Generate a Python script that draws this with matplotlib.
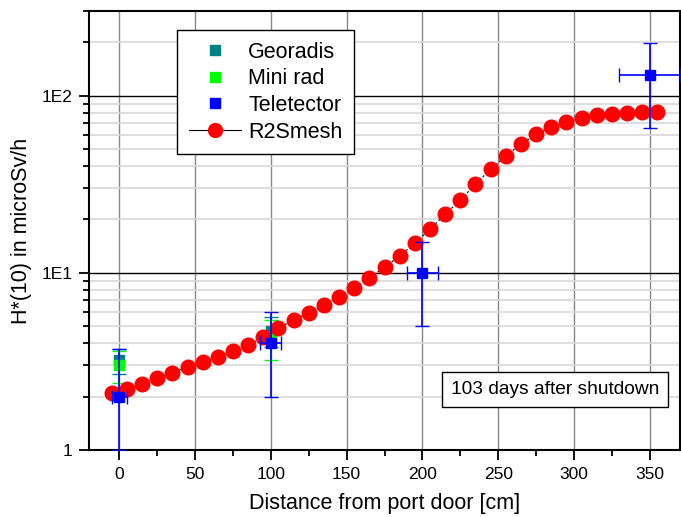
import matplotlib.pyplot as plt
from matplotlib.lines import Line2D
from matplotlib.ticker import LogLocator, NullFormatter, FixedLocator

plt.rcParams['font.family'] = ['Liberation Sans', 'DejaVu Sans']

# R2Smesh calculation
mesh_x = list(range(-5, 356, 10))
mesh_y = [2.10, 2.21, 2.36, 2.55, 2.73, 2.94, 3.14, 3.33, 3.61, 3.92, 4.33, 4.85,
          5.43, 5.90, 6.57, 7.29, 8.20, 9.31, 10.8, 12.4, 14.7, 17.6,
          21.4, 25.7, 31.6, 38.4, 45.5, 53.2, 60.4, 66.1, 71.3, 75.0, 77.8,
          79.1, 80.1, 80.8, 81.2]

# measurements
geo_x = [0, 100]
geo_y = [3.2, 4.7]
geo_err = [0.5, 0.9]

mini_x = [0, 100]
mini_y = [3.0, 4.3]
mini_err = [0.6, 1.1]

tele_x = [0, 100, 200, 350]
tele_y = [2.0, 4.0, 10.0, 130.0]
tele_err_lo = [1.0, 2.0, 5.0, 64.0]
tele_err_hi = [1.7, 2.0, 5.0, 68.0]
tele_xerr = [5, 7, 10, 20]

fig = plt.figure(figsize=(6.81, 5.17), dpi=100)
ax = fig.add_axes([89 / 681, 1 - 450 / 517, 591 / 681, 439 / 517])

ax.errorbar(geo_x, geo_y, yerr=geo_err, fmt='s', color='#008080', ms=7,
            elinewidth=1.2, capsize=5, zorder=3)
ax.errorbar(mini_x, mini_y, yerr=mini_err, fmt='s', color='#00ff00', ms=7,
            elinewidth=1.2, capsize=5, zorder=3)
ax.plot(mesh_x, mesh_y, color='black', ls=(0, (2, 2)), lw=0.8, marker='o',
        mfc='red', mec='red', ms=10.5, zorder=4)
ax.errorbar(tele_x, tele_y, yerr=[tele_err_lo, tele_err_hi], xerr=tele_xerr,
            fmt='s', color='#0000ff', ms=7, elinewidth=1.2, capsize=5, zorder=5)

ax.set_yscale('log')
ax.set_xlim(-20, 370)
ax.set_ylim(1, 300)
ax.xaxis.set_major_locator(FixedLocator([0, 50, 100, 150, 200, 250, 300, 350]))
ax.xaxis.set_minor_locator(FixedLocator([25, 75, 125, 175, 225, 275, 325]))
ax.yaxis.set_major_locator(FixedLocator([1, 10, 100]))
ax.yaxis.set_minor_locator(LogLocator(base=10, subs=range(2, 10)))
ax.yaxis.set_minor_formatter(NullFormatter())
ax.set_yticklabels(['1', '1E1', '1E2'])

ax.grid(True, which='major', axis='x', color='#888888', lw=1)
ax.grid(True, which='major', axis='y', color='black', lw=1)
ax.grid(True, which='minor', axis='y', color='#d8d8d8', lw=1.2)
ax.set_axisbelow(True)

ax.tick_params(which='major', direction='out', length=7, width=1.3, labelsize=12.5, pad=5)
ax.tick_params(which='minor', direction='out', length=4, width=1.3)
for s in ax.spines.values():
    s.set_linewidth(1.5)

ax.set_xlabel('Distance from port door [cm]', fontsize=15.5, labelpad=8)
ax.set_ylabel('H*(10) in microSv/h', fontsize=15.5, labelpad=7)

handles = [
    Line2D([], [], ls='none', marker='s', color='#008080', ms=7),
    Line2D([], [], ls='none', marker='s', color='#00ff00', ms=7),
    Line2D([], [], ls='none', marker='s', color='#0000ff', ms=7),
    Line2D([], [], color='black', lw=0.8, marker='o', mfc='red', mec='red', ms=10),
]
leg = ax.legend(handles, ['Georadis', 'Mini rad', 'Teletector', 'R2Smesh'],
                loc='upper left', bbox_to_anchor=(0.149, 0.957), borderaxespad=0,
                fontsize=15.5, frameon=True, fancybox=False, edgecolor='black',
                framealpha=1, handlelength=2.4, handletextpad=0.35, borderpad=0.55,
                labelspacing=0.26)
leg.get_frame().set_linewidth(1)

ax.text(0.788, 0.138, '103 days after shutdown', transform=ax.transAxes,
        ha='center', va='center', fontsize=13.8,
        bbox=dict(boxstyle='square,pad=0.45', fc='white', ec='black', lw=1))

fig.savefig('out.png', dpi=100)
